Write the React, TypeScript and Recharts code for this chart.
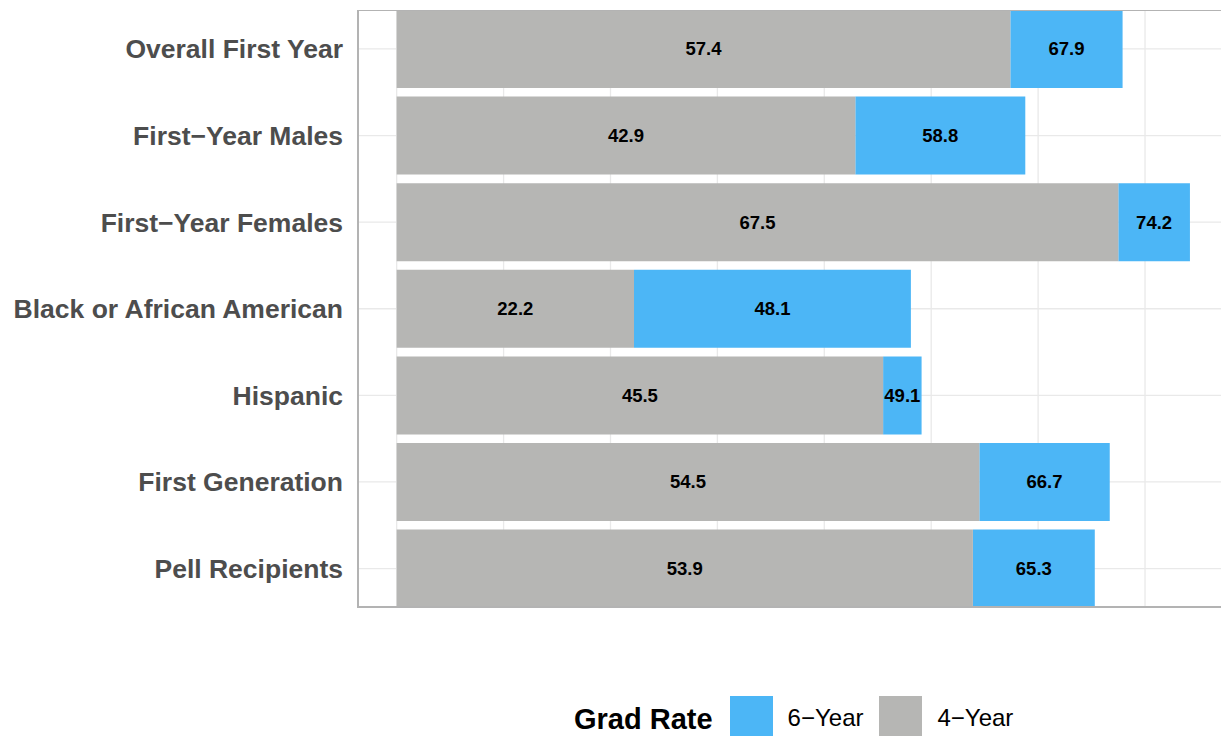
import React from 'react';
import { BarChart, Bar, XAxis, YAxis, CartesianGrid, LabelList } from 'recharts';

const categories = [
  'Overall First Year',
  'First\u2212Year Males',
  'First\u2212Year Females',
  'Black or African American',
  'Hispanic',
  'First Generation',
  'Pell Recipients',
];
const fourYear = [57.4, 42.9, 67.5, 22.2, 45.5, 54.5, 53.9];
const sixYear = [67.9, 58.8, 74.2, 48.1, 49.1, 66.7, 65.3];
const gridTicks = [0, 10, 20, 30, 40, 50, 60, 70];
const legendTitle = 'Grad Rate';
const legendLabels = ['6\u2212Year', '4\u2212Year'];

const BLUE = '#4cb6f6';
const GRAY = '#b6b6b4';
const GRID = '#e9e9e9';
const FONT = '"Liberation Sans", Arial, Helvetica, sans-serif';

const data = categories.map((c, i) => ({ category: c, four: fourYear[i], six: sixYear[i] }));
const maxVal = Math.max(...sixYear);
const pad = maxVal * 0.05;
const domain: [number, number] = [-pad, maxVal + pad];

const BarLabel = (props: any) => {
  const { x, y, width, height, value } = props;
  const v = Array.isArray(value) ? value[1] : value;
  return (
    <text
      x={Number(x) + Number(width) / 2}
      y={Number(y) + Number(height) / 2}
      textAnchor="middle"
      dominantBaseline="central"
      fill="#000"
      fontWeight="bold"
      fontSize={18.5}
      fontFamily={FONT}
    >
      {v}
    </text>
  );
};

const EmptyTick = () => <g />;

export default function App() {
  const legendColors = [BLUE, GRAY];
  return (
    <div
      style={{
        position: 'absolute',
        left: 0,
        top: 0,
        width: 1221,
        height: 736,
        overflow: 'hidden',
        background: '#fff',
        fontFamily: FONT,
      }}
    >
      <BarChart
        width={1240}
        height={620}
        data={data}
        layout="vertical"
        margin={{ top: 10, right: 10.4, bottom: 12.5, left: 0 }}
        barCategoryGap="5%"
      >
        <CartesianGrid stroke={GRID} strokeWidth={1.3} yAxisId="a" xAxisId={0} syncWithTicks />
        <XAxis
          type="number"
          xAxisId={0}
          domain={domain}
          ticks={gridTicks}
          interval={0}
          height={0}
          tick={EmptyTick}
          axisLine={false}
          tickLine={false}
          allowDataOverflow
        />
        <YAxis
          yAxisId="a"
          type="category"
          dataKey="category"
          width={357}
          axisLine={false}
          tickLine={false}
          tickSize={0}
          tickMargin={14}
          padding={{ top: -4.33, bottom: -4.33 }}
          interval={0}
          tick={{ fill: '#4d4d4d', fontSize: 26.5, fontWeight: 'bold', fontFamily: FONT }}
        />
        <YAxis
          yAxisId="b"
          type="category"
          dataKey="category"
          hide
          padding={{ top: -4.33, bottom: -4.33 }}
        />
        <Bar
          dataKey={(d: any) => [d.four, d.six]}
          name="six"
          yAxisId="a"
          xAxisId={0}
          fill={BLUE}
          isAnimationActive={false}
        >
          <LabelList content={BarLabel} />
        </Bar>
        <Bar dataKey="four" yAxisId="b" xAxisId={0} fill={GRAY} isAnimationActive={false}>
          <LabelList dataKey="four" content={BarLabel} />
        </Bar>
      </BarChart>
      <div
        style={{
          position: 'absolute',
          left: 356.5,
          top: 9.5,
          width: 900,
          height: 598.5,
          boxSizing: 'border-box',
          borderTop: '1.7px solid #b3b3b3',
          borderLeft: '2px solid #b3b3b3',
          borderBottom: '2px solid #b3b3b3',
          pointerEvents: 'none',
        }}
      />
      <div
        style={{
          position: 'absolute',
          left: 574,
          top: 696,
          height: 43,
          display: 'flex',
          alignItems: 'center',
          whiteSpace: 'nowrap',
        }}
      >
        <span style={{ fontWeight: 'bold', fontSize: 29, color: '#000', marginRight: 17, lineHeight: '43px', position: 'relative', top: 2 }}>
          {legendTitle}
        </span>
        {legendLabels.map((lab, i) => (
          <React.Fragment key={lab}>
            <span style={{ display: 'inline-block', width: 43, height: 43, background: legendColors[i] }} />
            <span style={{ fontSize: 24, color: '#000', marginLeft: 15, marginRight: i === 0 ? 16 : 0, lineHeight: '43px' }}>
              {lab}
            </span>
          </React.Fragment>
        ))}
      </div>
    </div>
  );
}
